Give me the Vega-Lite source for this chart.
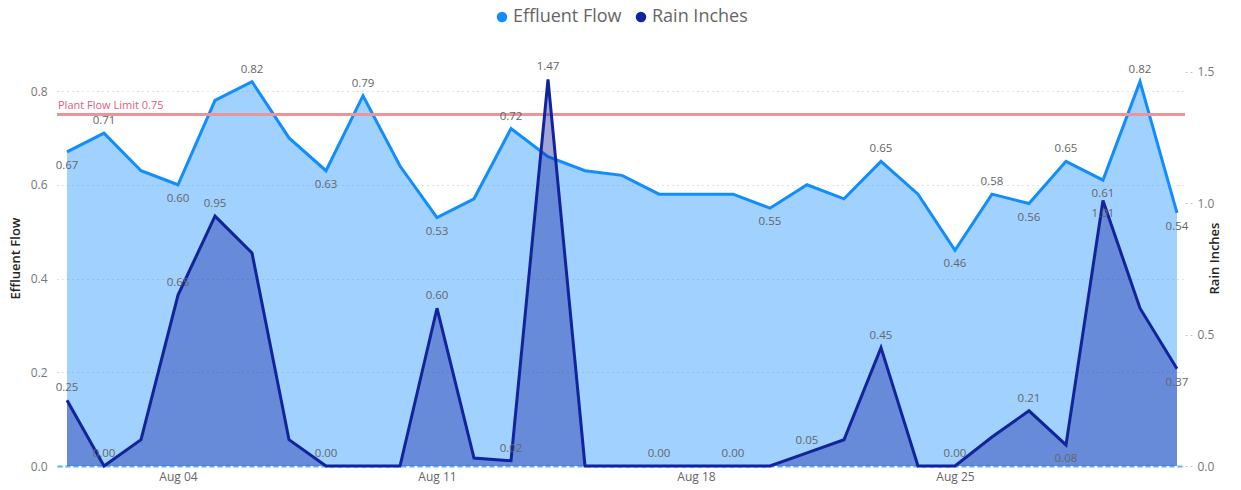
{
  "$schema": "https://vega.github.io/schema/vega-lite/v6.json",
  "autosize": {"type": "none"},
  "width": 1128,
  "height": 416,
  "padding": {"left": 57, "top": 50, "right": 56, "bottom": 24},
  "background": "white",
  "config": {
    "view": {"stroke": null},
    "font": "Segoe UI, Open Sans, sans-serif"
  },
  "data": {
    "values": [
      {"date": "2019-08-01", "flow": 0.67, "rain": 0.25},
      {"date": "2019-08-02", "flow": 0.71, "rain": 0.00},
      {"date": "2019-08-03", "flow": 0.63, "rain": 0.10},
      {"date": "2019-08-04", "flow": 0.60, "rain": 0.65},
      {"date": "2019-08-05", "flow": 0.78, "rain": 0.95},
      {"date": "2019-08-06", "flow": 0.82, "rain": 0.81},
      {"date": "2019-08-07", "flow": 0.70, "rain": 0.10},
      {"date": "2019-08-08", "flow": 0.63, "rain": 0.00},
      {"date": "2019-08-09", "flow": 0.79, "rain": 0.00},
      {"date": "2019-08-10", "flow": 0.64, "rain": 0.00},
      {"date": "2019-08-11", "flow": 0.53, "rain": 0.60},
      {"date": "2019-08-12", "flow": 0.57, "rain": 0.03},
      {"date": "2019-08-13", "flow": 0.72, "rain": 0.02},
      {"date": "2019-08-14", "flow": 0.66, "rain": 1.47},
      {"date": "2019-08-15", "flow": 0.63, "rain": 0.00},
      {"date": "2019-08-16", "flow": 0.62, "rain": 0.00},
      {"date": "2019-08-17", "flow": 0.58, "rain": 0.00},
      {"date": "2019-08-18", "flow": 0.58, "rain": 0.00},
      {"date": "2019-08-19", "flow": 0.58, "rain": 0.00},
      {"date": "2019-08-20", "flow": 0.55, "rain": 0.00},
      {"date": "2019-08-21", "flow": 0.60, "rain": 0.05},
      {"date": "2019-08-22", "flow": 0.57, "rain": 0.10},
      {"date": "2019-08-23", "flow": 0.65, "rain": 0.45},
      {"date": "2019-08-24", "flow": 0.58, "rain": 0.00},
      {"date": "2019-08-25", "flow": 0.46, "rain": 0.00},
      {"date": "2019-08-26", "flow": 0.58, "rain": 0.11},
      {"date": "2019-08-27", "flow": 0.56, "rain": 0.21},
      {"date": "2019-08-28", "flow": 0.65, "rain": 0.08},
      {"date": "2019-08-29", "flow": 0.61, "rain": 1.01},
      {"date": "2019-08-30", "flow": 0.82, "rain": 0.60},
      {"date": "2019-08-31", "flow": 0.54, "rain": 0.37}
    ]
  },
  "encoding": {
    "x": {
      "field": "date",
      "type": "temporal",
      "scale": {
        "type": "utc",
        "domain": [
          {"year": 2019, "month": "jul", "date": 31, "hours": 17, "minutes": 30, "utc": true},
          {"year": 2019, "month": "aug", "date": 31, "hours": 5, "minutes": 12, "utc": true}
        ]
      },
      "axis": {
        "title": null,
        "values": [
          {"year": 2019, "month": "aug", "date": 4, "utc": true},
          {"year": 2019, "month": "aug", "date": 11, "utc": true},
          {"year": 2019, "month": "aug", "date": 18, "utc": true},
          {"year": 2019, "month": "aug", "date": 25, "utc": true}
        ],
        "format": "%b %d",
        "formatType": "utc",
        "grid": false,
        "ticks": false,
        "labelColor": "#666666",
        "labelFontSize": 12,
        "labelPadding": 5,
        "domainColor": "#5CB1FF",
        "domainDash": [5, 3],
        "domainWidth": 2
      }
    }
  },
  "layer": [
    {
      "encoding": {
        "y": {
          "field": "flow",
          "type": "quantitative",
          "scale": {"domain": [0, 0.8875], "nice": false, "zero": true},
          "axis": {
            "title": "Effluent Flow",
            "values": [0, 0.2, 0.4, 0.6, 0.8],
            "format": ".1f",
            "grid": true,
            "gridDash": [1, 4],
            "gridColor": "#c4c4c4",
            "ticks": false,
            "domain": false,
            "labelColor": "#777777",
            "labelFontSize": 12,
            "labelPadding": 10,
            "titleColor": "#252423",
            "titleFontSize": 13,
            "titleFontWeight": 600,
            "titlePadding": 8
          }
        }
      },
      "layer": [
        {
          "mark": {"type": "area", "fill": "#118DFF", "fillOpacity": 0.4, "stroke": null}
        },
        {
          "mark": {"type": "line", "strokeWidth": 3},
          "encoding": {
            "color": {
              "datum": "Effluent Flow",
              "type": "nominal",
              "scale": {"domain": ["Effluent Flow", "Rain Inches"], "range": ["#118DFF", "#12239E"]},
              "legend": {
                "orient": "none",
                "legendX": 436,
                "legendY": -42,
                "direction": "horizontal",
                "title": null,
                "symbolType": "circle",
                "symbolSize": 110,
                "symbolStrokeWidth": 0,
                "labelFontSize": 18,
                "labelColor": "#666666",
                "labelOffset": 2,
                "columnPadding": 10,
                "encode": {
                  "symbols": {"update": {"fill": {"scale": "color", "field": "value"}, "strokeWidth": {"value": 0}}}
                }
              }
            }
          }
        },
        {
          "transform": [{"filter": "utcdate(datum.date) == 1"}],
          "mark": {"type": "rule", "stroke": "#E9969B", "strokeWidth": 3},
          "encoding": {"x": null, "y": {"datum": 0.75, "type": "quantitative"}}
        },
        {
          "transform": [{"filter": "utcdate(datum.date) == 1"}],
          "mark": {"type": "text", "align": "left", "baseline": "bottom", "dx": 1, "dy": -3, "color": "#E0607A", "fontSize": 11},
          "encoding": {
            "x": {"datum": {"year": 2019, "month": "jul", "date": 31, "hours": 17, "minutes": 30, "utc": true}, "type": "temporal"},
            "y": {"datum": 0.75, "type": "quantitative"},
            "text": {"value": "Plant Flow Limit 0.75"}
          }
        },
        {
          "transform": [{"filter": "indexof([2,6,9,13,23,26,28,30], utcdate(datum.date)) >= 0"}],
          "mark": {"type": "text", "baseline": "bottom", "dy": -7, "color": "#666666", "fontSize": 11.5},
          "encoding": {"text": {"field": "flow", "type": "quantitative", "format": ".2f"}}
        },
        {
          "transform": [{"filter": "indexof([1,4,8,11,20,25,27,29,31], utcdate(datum.date)) >= 0"}],
          "mark": {"type": "text", "baseline": "top", "dy": 8, "color": "#666666", "fontSize": 11.5},
          "encoding": {"text": {"field": "flow", "type": "quantitative", "format": ".2f"}}
        }
      ]
    },
    {
      "encoding": {
        "y": {
          "field": "rain",
          "type": "quantitative",
          "scale": {"domain": [0, 1.582], "nice": false, "zero": true},
          "axis": {
            "orient": "right",
            "title": "Rain Inches",
            "values": [0, 0.5, 1, 1.5],
            "format": ".1f",
            "grid": false,
            "ticks": true,
            "tickDash": [2, 3],
            "tickColor": "#c4c4c4",
            "tickSize": 8,
            "domain": false,
            "labelColor": "#777777",
            "labelFontSize": 12,
            "labelPadding": 4,
            "titleColor": "#252423",
            "titleFontSize": 13,
            "titleFontWeight": 600,
            "titleAngle": 270,
            "titlePadding": 8
          }
        }
      },
      "layer": [
        {
          "mark": {"type": "area", "fill": "#12239E", "fillOpacity": 0.4, "stroke": null}
        },
        {
          "mark": {"type": "line", "strokeWidth": 3},
          "encoding": {"color": {"datum": "Rain Inches", "type": "nominal"}}
        },
        {
          "transform": [{"filter": "indexof([1,2,4,5,8,11,13,14,17,19,21,23,25,27], utcdate(datum.date)) >= 0"}],
          "mark": {"type": "text", "baseline": "bottom", "dy": -7, "color": "#666666", "fontSize": 11.5},
          "encoding": {"text": {"field": "rain", "type": "quantitative", "format": ".2f"}}
        },
        {
          "transform": [{"filter": "indexof([28,29,31], utcdate(datum.date)) >= 0"}],
          "mark": {"type": "text", "baseline": "top", "dy": 8, "color": "#666666", "fontSize": 11.5},
          "encoding": {"text": {"field": "rain", "type": "quantitative", "format": ".2f"}}
        }
      ]
    }
  ],
  "resolve": {"scale": {"y": "independent"}}
}
